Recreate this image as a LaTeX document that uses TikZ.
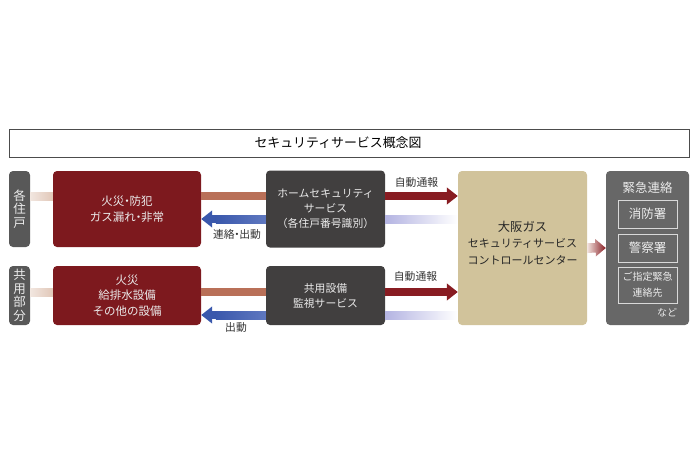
\documentclass[tikz,border=0pt]{standalone}
\usepackage{fontspec}
\setmainfont{Noto Sans CJK JP}
\usepackage{tikz}
\usetikzlibrary{arrows.meta}

\definecolor{firered}{RGB}{125,25,30}
\definecolor{darkbox}{RGB}{65,63,63}
\definecolor{tanbox}{RGB}{209,195,155}
\definecolor{greybox}{RGB}{103,103,103}
\definecolor{tabgrey}{RGB}{88,88,88}
\definecolor{palelink}{RGB}{225,200,185}
\definecolor{brownlink}{RGB}{185,112,88}
\definecolor{bluedark}{RGB}{58,88,172}
\definecolor{bluelight}{RGB}{95,120,192}
\definecolor{reddark}{RGB}{136,28,34}
\definecolor{redlight}{RGB}{155,48,48}
\definecolor{lavlink}{RGB}{180,180,226}
\newcommand{\dt}{\kern-.28em・\kern-.28em}

\begin{document}
\begin{tikzpicture}
[x=1pt,y=-1pt,node distance=88pt,
 bx/.style={rounded corners=4pt,inner sep=0pt,align=center,text=white!92!black},
 tabbox/.style={bx,fill=tabgrey,minimum width=21pt,font=\fontsize{12.5}{13.5}\selectfont},
 redbox/.style={bx,fill=firered,minimum width=148pt,font=\fontsize{11.5}{15.5}\selectfont},
 svcbox/.style={bx,fill=darkbox,minimum width=119pt,font=\fontsize{10.8}{15}\selectfont},
 firmbox/.style={draw=white!85!black,line width=.8pt,inner sep=0pt,align=center,minimum width=59pt,text=white!92!black},
 lbl/.style={inner sep=0pt,text=black!80,font=\fontsize{10.8}{13}\selectfont},
 barlink/.style={line width=8pt},
 headlink/.style={barlink,-{Triangle[length=11pt,width=16.5pt]}}]
\useasboundingbox (0,0) rectangle (700,466);

% title
\node[draw=black!70,line width=.8pt,minimum width=680pt,minimum height=28pt,inner sep=0pt,font=\fontsize{12.9}{15}\selectfont] (title) at (349,143) {セキュリティサービス概念図\kern22pt};

% row of the dwellings
\node[tabbox,minimum height=76pt] (tab1) at (19.5,209) {各\\住\\戸};
\node[redbox,minimum height=76pt] (fire1) at (127,209) {火災\dt 防犯\\ガス漏れ\dt 非常};
\node[svcbox,minimum height=77pt] (home) at (325.5,209) {ホームセキュリティ\\サービス\\（各住戸番号識別）};

% row of the shared parts
\node[tabbox,minimum height=59pt] (tab2) at (19.5,295.5) {共\\用\\部\\分};
\node[redbox,minimum height=59pt] (fire2) [below of=fire1,node distance=86.5pt] {火災\\給排水設備\\その他の設備};
\node[svcbox,minimum height=59pt] (shared) [below of=home,node distance=86.5pt] {共用設備\\監視サービス};

% control centre and contacts
\node[bx,fill=tanbox,minimum width=129pt,minimum height=154pt] (centre) at (522.5,248) {};
\node[align=center,inner sep=0pt,text=black!85,font=\fontsize{11}{16.6}\selectfont] (centretext) at (522.5,243) {{\fontsize{12.3}{16.6}\selectfont 大阪ガス}\\セキュリティサービス\\コントロールセンター};
\node[bx,fill=greybox,minimum width=83pt,minimum height=154pt] (contacts) at (647.5,248) {};
\node[inner sep=0pt,text=white!92!black,font=\fontsize{12.5}{15}\selectfont] (contactshead) at (647.5,188) {緊急連絡};
\node[firmbox,minimum height=28pt,font=\fontsize{12.5}{15}\selectfont] (fireoffice) at (647.5,214) {消防署};
\node[firmbox,minimum height=28pt,font=\fontsize{12.5}{15}\selectfont] (police) at (647.5,248) {警察署};
\node[firmbox,minimum height=36pt,font=\fontsize{10}{16}\selectfont] (other) at (647.5,285) {ご指定緊急\\連絡先};
\node[inner sep=0pt,text=white!92!black,font=\fontsize{10}{12}\selectfont] (etc) at (667,313) {など};

% connectors
\shade[left color=white!55!palelink,right color=palelink] ([yshift=17]tab1.east) rectangle ([yshift=9]fire1.west);
\shade[left color=white!55!palelink,right color=palelink] ([yshift=7.5]tab2.east) rectangle ([yshift=-.5]fire2.west);
\draw[barlink,draw=brownlink] ([yshift=13]fire1.east) -- ([yshift=13]home.west);
\draw[barlink,draw=brownlink] ([yshift=3.5]fire2.east) -- ([yshift=3.5]shared.west);
\draw[headlink,draw=bluedark] ([yshift=-10]home.west) -- ([yshift=-10]fire1.east);
\draw[headlink,draw=bluedark] ([yshift=-19.5]shared.west) -- ([yshift=-19.5]fire2.east);
\shade[left color=bluedark,right color=bluelight] ([yshift=-6]home.west) ++(-50,0) rectangle ([yshift=-14]home.west);
\shade[left color=bluedark,right color=bluelight] ([yshift=-15.5]shared.west) ++(-50,0) rectangle ([yshift=-23.5]shared.west);
\draw[headlink,draw=reddark] ([yshift=13]home.east) -- ([yshift=52]centre.west);
\draw[headlink,draw=reddark] ([yshift=3.5]shared.east) -- ([yshift=-44]centre.west);
\shade[left color=redlight,right color=reddark] ([yshift=17]home.east) rectangle ([yshift=9]home.east) ++(50,0);
\shade[left color=redlight,right color=reddark] ([yshift=7.5]shared.east) rectangle ([yshift=-.5]shared.east) ++(50,0);
\shade[left color=lavlink,right color=white] ([yshift=-6]home.east) rectangle ([yshift=25]centre.west);
\shade[left color=lavlink,right color=white] ([yshift=-15.5]shared.east) rectangle ([yshift=-71]centre.west);
\shade[left color=white!80!brownlink,right color=reddark] ([yshift=5]centre.east) -- ++(8,0) -- ++(0,-4) -- (contacts.west) -- ++(-10,8.5) -- ++(0,-4) -- ([yshift=-5]centre.east) -- cycle;

% labels
\node[lbl] (autoa) at (416.5,182) {自動通報};
\node[lbl] (autob) at (415.5,276) {自動通報};
\node[lbl] (contactlbl) at (237,234) {連絡\dt 出動};
\node[lbl] (dispatchlbl) at (236,327) {出動};
\end{tikzpicture}
\end{document}
